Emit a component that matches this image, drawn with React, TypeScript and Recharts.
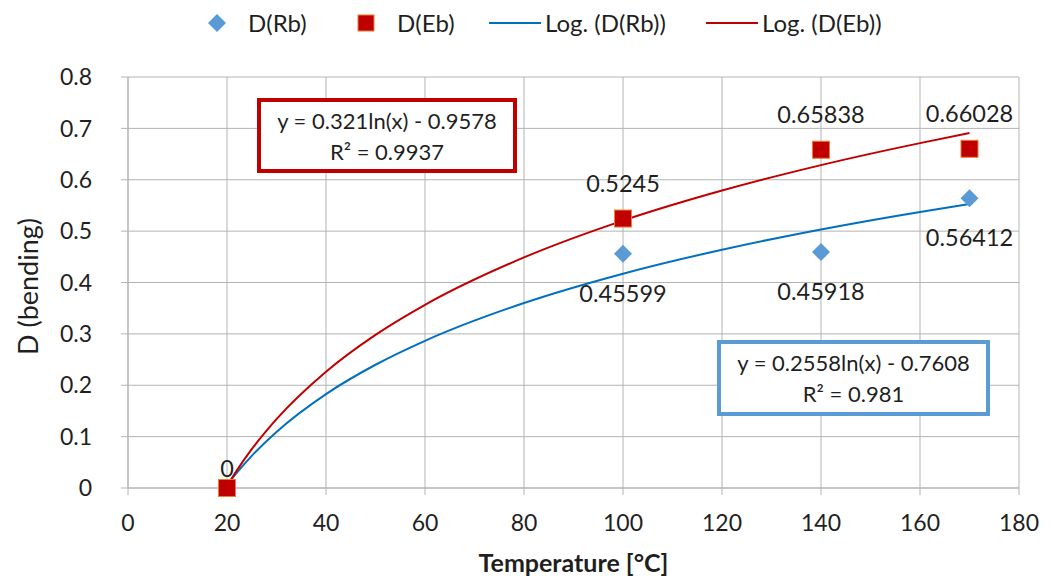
import { CartesianGrid, ComposedChart, Line, Scatter, XAxis, YAxis } from "recharts";

// measured points
const temps = [20, 100, 140, 170];
const dRb = [0, 0.45599, 0.45918, 0.56412];
const dEb = [0, 0.5245, 0.65838, 0.66028];

// log trend lines, values taken along the curves in the picture
const trendX = [20, 22, 25, 30, 40, 50, 60, 80, 100, 120, 140, 160, 170];
const trendRb = [0.0055, 0.0299, 0.0626, 0.1092, 0.1828, 0.2399, 0.2865, 0.3601, 0.4172, 0.4638, 0.5033, 0.5374, 0.5529];
const trendEb = [0.0038, 0.0344, 0.0755, 0.134, 0.2263, 0.298, 0.3565, 0.4488, 0.5205, 0.579, 0.6285, 0.6713, 0.6908];

const xTicks = [0, 20, 40, 60, 80, 100, 120, 140, 160, 180];
const yTicks = [0, 0.1, 0.2, 0.3, 0.4, 0.5, 0.6, 0.7, 0.8];

const eqEb = ["y = 0.321ln(x) - 0.9578", "R² = 0.9937"];
const eqRb = ["y = 0.2558ln(x) - 0.7608", "R² = 0.981"];

if (typeof document !== "undefined") document.body.style.margin = "0";

const FONT = "Lato, 'Open Sans', sans-serif";
const TEXT = "#1f1f1f";
const GRID = "#b3b3b3";
const LBL = 23.5;

const rbPts = temps.map((x, i) => ({ x, y: dRb[i] }));
const ebPts = temps.map((x, i) => ({ x, y: dEb[i] }));
const rbTrend = trendX.map((x, i) => ({ x, y: trendRb[i] }));
const ebTrend = trendX.map((x, i) => ({ x, y: trendEb[i] }));

function Diamond(props: any) {
  const { cx, cy, payload } = props;
  const r = 9;
  const v = payload.y;
  // the zero label sits above the point, the others below
  const dy = v === 0 ? -20 : 39;
  return (
    <g>
      <path d={`M${cx},${cy - r}L${cx + r},${cy}L${cx},${cy + r}L${cx - r},${cy}Z`} fill="#5b9bd5" />
      <text x={cx} y={cy + dy} textAnchor="middle" dominantBaseline="central" fontSize={LBL} fill={TEXT} fontFamily={FONT}>
        {v}
      </text>
    </g>
  );
}

function Square(props: any) {
  const { cx, cy, payload } = props;
  const s = 17;
  const v = payload.y;
  return (
    <g>
      <rect x={cx - s / 2} y={cy - s / 2} width={s} height={s} fill="#c00000" stroke="#ed7d31" strokeWidth={1} />
      {v !== 0 && (
        <text x={cx} y={cy - 36} textAnchor="middle" dominantBaseline="central" fontSize={LBL} fill={TEXT} fontFamily={FONT}>
          {v}
        </text>
      )}
    </g>
  );
}

function YTitle(props: any) {
  const vb = props.viewBox;
  const cx = 27;
  const cy = vb.y + vb.height / 2 + 4;
  return (
    <text x={cx} y={cy} transform={`rotate(-90 ${cx} ${cy})`} textAnchor="middle" dominantBaseline="central" fontSize={27} fill={TEXT} fontFamily={FONT}>
      D (bending)
    </text>
  );
}

function EqBox({ lines, color, left, top, width, height }: any) {
  return (
    <div
      style={{
        position: "absolute",
        left,
        top,
        width,
        height,
        boxSizing: "border-box",
        border: `4px solid ${color}`,
        background: "#fff",
        display: "flex",
        flexDirection: "column",
        justifyContent: "center",
        alignItems: "center",
        fontFamily: FONT,
        fontSize: 22,
        lineHeight: "31px",
        color: TEXT,
      }}
    >
      {lines.map((l: string) => (
        <div key={l}>{l}</div>
      ))}
    </div>
  );
}

const legendText = { position: "absolute" as const, top: 7, fontFamily: FONT, fontSize: 24, color: TEXT, lineHeight: "32px" };

export default function App() {
  return (
    <div style={{ position: "relative", width: 1057, height: 578, background: "#fff" }}>
      <ComposedChart width={1057} height={578} margin={{ top: 77, right: 38, bottom: 0, left: 0 }}>
        <CartesianGrid stroke={GRID} vertical horizontal />
        <XAxis
          dataKey="x"
          type="number"
          domain={[0, 180]}
          ticks={xTicks}
          height={90}
          tickSize={7}
          tickMargin={20}
          stroke={GRID}
          tick={{ fill: TEXT, fontSize: 23, fontFamily: FONT }}
          allowDuplicatedCategory={false}
          label={{ value: "Temperature [°C]", position: "insideBottom", offset: 6, fill: TEXT, fontSize: 25, fontWeight: 700, fontFamily: FONT }}
        />
        <YAxis
          type="number"
          domain={[0, 0.8]}
          ticks={yTicks}
          width={128}
          tickSize={7}
          tickMargin={29}
          stroke={GRID}
          tickFormatter={(v: number) => String(Math.round(v * 10) / 10)}
          tick={{ fill: TEXT, fontSize: 23, fontFamily: FONT }}
          label={<YTitle />}
        />
        <Line data={rbTrend} dataKey="y" type="monotone" stroke="#0070c0" strokeWidth={2} dot={false} isAnimationActive={false} />
        <Line data={ebTrend} dataKey="y" type="monotone" stroke="#c00000" strokeWidth={2} dot={false} isAnimationActive={false} />
        <Scatter data={rbPts} dataKey="y" shape={<Diamond />} isAnimationActive={false} />
        <Scatter data={ebPts} dataKey="y" shape={<Square />} isAnimationActive={false} />
      </ComposedChart>

      {/* legend */}
      <svg style={{ position: "absolute", left: 0, top: 0 }} width={1057} height={46}>
        <path d="M217,14L226,23L217,32L208,23Z" fill="#5b9bd5" />
        <rect x={358} y={15} width={16} height={16} fill="#c00000" stroke="#ed7d31" strokeWidth={1} />
        <line x1={489} y1={23} x2={541} y2={23} stroke="#0070c0" strokeWidth={2} />
        <line x1={706} y1={23} x2={758} y2={23} stroke="#c00000" strokeWidth={2} />
      </svg>
      <div style={{ ...legendText, left: 248 }}>D(Rb)</div>
      <div style={{ ...legendText, left: 397 }}>D(Eb)</div>
      <div style={{ ...legendText, left: 545 }}>Log. (D(Rb))</div>
      <div style={{ ...legendText, left: 762 }}>Log. (D(Eb))</div>

      <EqBox lines={eqEb} color="#c00000" left={257} top={98} width={260} height={75} />
      <EqBox lines={eqRb} color="#5b9bd5" left={717} top={340} width={273} height={76} />
    </div>
  );
}
